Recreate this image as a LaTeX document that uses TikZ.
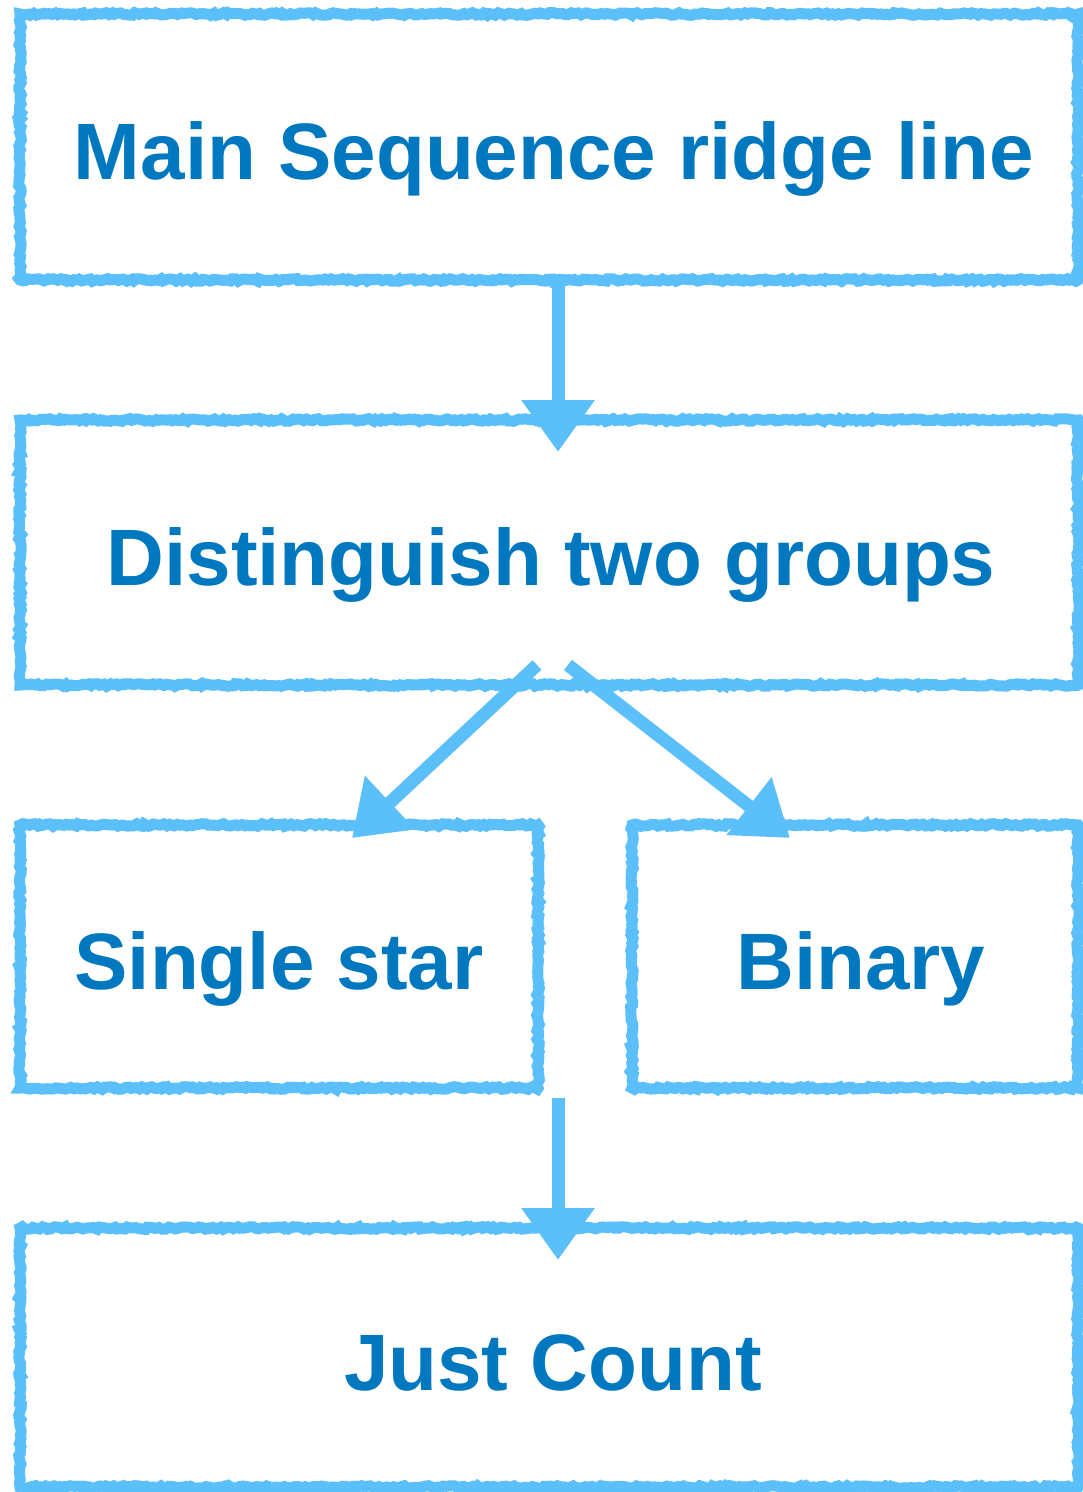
\documentclass[tikz,border=0pt]{standalone}
\usepackage{fontspec}
\setmainfont{Liberation Sans}
\usetikzlibrary{arrows.meta,decorations.pathmorphing,calc}
\definecolor{edge}{HTML}{5BC0F9}
\definecolor{ink}{HTML}{0078BF}
\tikzset{
  sketch/.style={draw=edge, line width=11pt,
    decorate, decoration={random steps, segment length=3pt, amplitude=1.3pt}},
  box/.style={rectangle, inner sep=0pt, outer sep=0pt,
    font=\fontsize{80}{90}\selectfont\bfseries, text=ink,
    text height=65pt, text depth=0pt},
  conn/.style={draw=edge, line width=13pt,
    -{Triangle[width=70pt,length=52pt]}},
}
\pgfmathsetseed{7}
\begin{document}
\begin{tikzpicture}[x=1pt,y=-1pt]
\useasboundingbox (0,0) rectangle (1083,1492);
\fill[white] (0,0) rectangle (1083,1492);

\node[box, minimum width=1058pt, minimum height=266pt] (b1) at (549,147) {\hspace{10pt}Main Sequence ridge line};
\node[box, minimum width=1058pt, minimum height=265pt] (b2) at (549,552.5) {\hspace{4pt}Distinguish two groups};
\node[box, minimum width=518pt, minimum height=263pt] (b3) at (279,956.5) {Single star};
\node[box, minimum width=446pt, minimum height=263pt] (b4) at (855,956.5) {\hspace{12pt}Binary};
\node[box, minimum width=1058pt, minimum height=259pt] (b5) at (549,1357.5) {\hspace{8pt}Just Count};

\foreach \n in {b1,b2,b3,b4,b5}{
  \path[sketch] (\n.north west) rectangle (\n.south east);
}

\coordinate (a1s) at ($(b1.south)+(9,0)$);
\coordinate (a1e) at ($(b2.north)+(9,32)$);
\coordinate (a2s) at ($(b2.south)+(-12,-20)$);
\coordinate (a2e) at ($(b3.north)+(73,13)$);
\coordinate (a3s) at ($(b2.south)+(19,-20)$);
\coordinate (a3e) at ($(b4.north)+(-65,13)$);
\coordinate (a4s) at ($(b3.south east)+(20,10)$);
\coordinate (a4e) at ($(b5.north)+(9,32)$);

\draw[conn] (a1s) -- (a1e);
\draw[conn] (a2s) -- (a2e);
\draw[conn] (a3s) -- (a3e);
\draw[conn] (a4s) -- (a4s |- a4e);
\end{tikzpicture}
\end{document}
